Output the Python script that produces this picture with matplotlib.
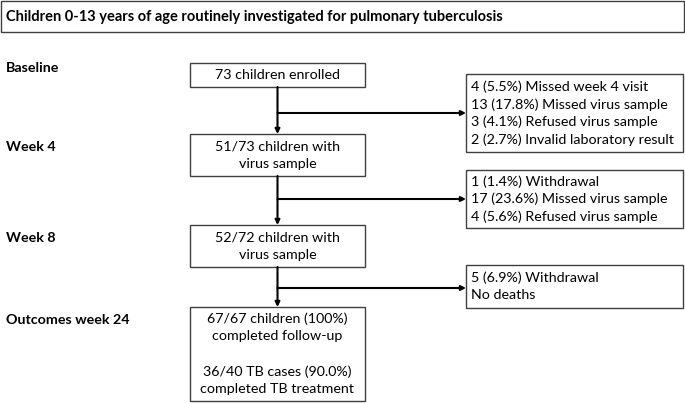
import matplotlib.pyplot as plt
from matplotlib.patches import Rectangle

plt.rcParams['font.family'] = ['Lato', 'DejaVu Sans']

title = 'Children 0-13 years of age routinely investigated for pulmonary tuberculosis'
stage_labels = ['Baseline', 'Week 4', 'Week 8', 'Outcomes week 24']
main_texts = [
    ['73 children enrolled'],
    ['51/73 children with', 'virus sample'],
    ['52/72 children with', 'virus sample'],
    ['67/67 children (100%)', 'completed follow-up', '', '36/40 TB cases (90.0%)', 'completed TB treatment'],
]
excluded_texts = [
    ['4 (5.5%) Missed week 4 visit', '13 (17.8%) Missed virus sample',
     '3 (4.1%) Refused virus sample', '2 (2.7%) Invalid laboratory result'],
    ['1 (1.4%) Withdrawal', '17 (23.6%) Missed virus sample', '4 (5.6%) Refused virus sample'],
    ['5 (6.9%) Withdrawal', 'No deaths'],
]

# layout in pixel units (y down)
W, H = 685, 403
main_x0, main_x1 = 190, 365
main_boxes = [(63, 87), (134, 176), (225, 267), (307, 401)]
label_y = [68, 147, 238, 320]
right_x0, right_x1 = 466, 683
right_boxes = [(74, 152), (170, 228), (265, 308)]
branch_y = [113, 199, 288]
line_h = 17.5
fs = 10.3
edge = '#404040'

fig = plt.figure(figsize=(W / 100, H / 100), dpi=100)
ax = fig.add_axes([0, 0, 1, 1])
ax.set_xlim(0, W)
ax.set_ylim(H, 0)
ax.axis('off')

# title box
ax.add_patch(Rectangle((1, 1), W - 2, 31, fill=False, ec=edge, lw=1))
ax.text(6, 17, title, fontsize=10.5, fontweight='bold', va='center', ha='left')

cx = (main_x0 + main_x1) / 2
for lab, ly in zip(stage_labels, label_y):
    ax.text(6, ly, lab, fontsize=fs, fontweight='bold', va='center', ha='left')

for (y0, y1), lines in zip(main_boxes, main_texts):
    ax.add_patch(Rectangle((main_x0, y0), main_x1 - main_x0, y1 - y0, fill=False, ec=edge, lw=1))
    n = len(lines)
    mid = (y0 + y1) / 2
    for i, t in enumerate(lines):
        ax.text(cx, mid + (i - (n - 1) / 2) * line_h, t, fontsize=fs, ha='center', va='center')

for (y0, y1), lines in zip(right_boxes, excluded_texts):
    ax.add_patch(Rectangle((right_x0, y0), right_x1 - right_x0, y1 - y0, fill=False, ec=edge, lw=1))
    n = len(lines)
    mid = (y0 + y1) / 2
    for i, t in enumerate(lines):
        ax.text(right_x0 + 5, mid + (i - (n - 1) / 2) * line_h, t, fontsize=fs, ha='left', va='center')

arrow = dict(arrowstyle='-|>', color='black', lw=1.5, mutation_scale=7, shrinkA=0, shrinkB=0)
for i in range(3):
    ax.annotate('', xy=(cx, main_boxes[i + 1][0]), xytext=(cx, main_boxes[i][1]), arrowprops=arrow)
    ax.annotate('', xy=(right_x0, branch_y[i]), xytext=(cx, branch_y[i]), arrowprops=arrow)

fig.savefig('out.png', dpi=100)
